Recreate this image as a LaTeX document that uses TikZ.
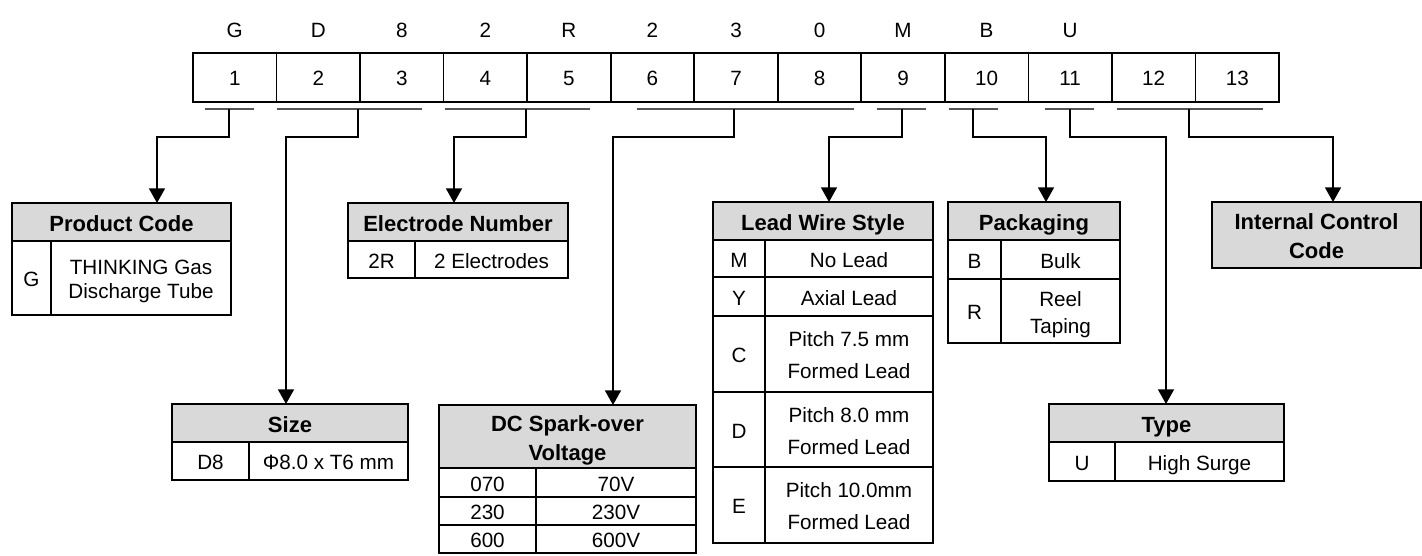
\documentclass[tikz,border=0pt]{standalone}
\usepackage{fontspec}
\setmainfont{Liberation Sans}
\usetikzlibrary{arrows.meta}
\definecolor{hdrgray}{RGB}{217,217,217}
\definecolor{brkgray}{RGB}{85,85,85}
\newcommand\mkcell[7][cellbox]{\node[#1, minimum width={(#5-#3)*0.75pt}, minimum height={(#6-#4)*0.75pt}] (#2) at (#3,#4) {#7};}
\begin{document}
\begin{tikzpicture}[x=0.75pt,y=-0.75pt,
  every node/.style={font=\fontsize{15.5}{18}\selectfont},
  cellbox/.style={draw=black, line width=1.3pt, inner sep=0pt, outer sep=0pt, anchor=north west, align=center, text height=13.2pt, text depth=0pt},
  headbox/.style={cellbox, fill=hdrgray, font=\fontsize{16.5}{21.5}\selectfont\bfseries, text height=13.8pt},
  headtwo/.style={headbox, text height=35.3pt},
  pctwo/.style={cellbox, text height=31.2pt},
  twoline/.style={cellbox, font=\fontsize{15.5}{24}\selectfont, text height=37.2pt},
  pkline/.style={cellbox, font=\fontsize{15.5}{20}\selectfont, text height=33.2pt},
  topcell/.style={draw=black, line width=1.3pt, inner sep=0pt, outer sep=0pt, minimum width=62.65pt, minimum height=36.75pt, text height=12.6pt, text depth=0pt},
  letter/.style={inner sep=0pt},
  brk/.style={draw=brkgray, line width=1.1pt},
  conn/.style={draw=black, line width=1.3pt, -{Triangle[width=12pt,length=11pt]}}
]
\useasboundingbox (0,0) rectangle (1422,556);

% top code row
\foreach \i/\t in {1/G,2/D,3/8,4/2,5/R,6/2,7/3,8/0,9/M,10/B,11/U}{
  \node[letter] (l\i) at ({193+(\i-0.5)*83.54},30) {\t};
}
\foreach \i in {1,...,13}{
  \node[topcell] (c\i) at ({193+(\i-0.5)*83.54},77.5) {\i};
}

% brackets
\coordinate (lvl) at (0,137);
\draw[brk] (205,109) -- (254,109);   \coordinate (b1) at (229,109);
\draw[brk] (277,109) -- (422,109);   \coordinate (b2) at (358,109);
\draw[brk] (445,109) -- (590,109);   \coordinate (b3) at (526,109);
\draw[brk] (637,109) -- (854,109);   \coordinate (b4) at (734,109);
\draw[brk] (877,109) -- (926,109);   \coordinate (b5) at (902,109);
\draw[brk] (949,109) -- (998,109);   \coordinate (b6) at (973,109);
\draw[brk] (1045,109) -- (1094,109); \coordinate (b7) at (1070,109);
\draw[brk] (1117,109) -- (1263,109); \coordinate (b8) at (1189,109);

% Product Code
\mkcell[headbox]{pch}{12}{203}{231}{241}{Product Code}
\mkcell{pc1}{12}{241}{51}{315}{G}
\mkcell[pctwo]{pc2}{51}{241}{231}{315}{THINKING Gas\\Discharge Tube}

% Electrode Number
\mkcell[headbox]{elh}{348}{203}{568}{241}{Electrode Number}
\mkcell{el1}{348}{241}{415}{278}{2R}
\mkcell{el2}{415}{241}{568}{278}{2 Electrodes}

% Size
\mkcell[headbox]{szh}{172}{404}{408}{442}{Size}
\mkcell{sz1}{172}{442}{249}{480}{D8}
\mkcell{sz2}{249}{442}{408}{480}{Φ8.0 x T6 mm}

% DC Spark-over Voltage
\mkcell[headtwo]{dch}{439}{405}{696}{468}{DC Spark-over\\Voltage}
\mkcell{dc1a}{439}{468}{536}{497}{070}
\mkcell{dc1b}{536}{468}{696}{497}{70V}
\mkcell{dc2a}{439}{497}{536}{525}{230}
\mkcell{dc2b}{536}{497}{696}{525}{230V}
\mkcell{dc3a}{439}{525}{536}{553}{600}
\mkcell{dc3b}{536}{525}{696}{553}{600V}

% Lead Wire Style
\mkcell[headbox]{lwh}{713}{202}{933}{240}{Lead Wire Style}
\mkcell{lw1a}{713}{240}{765}{277}{M}
\mkcell{lw1b}{765}{240}{933}{277}{No Lead}
\mkcell{lw2a}{713}{277}{765}{316}{Y}
\mkcell{lw2b}{765}{277}{933}{316}{Axial Lead}
\mkcell{lw3a}{713}{316}{765}{392}{C}
\mkcell[twoline]{lw3b}{765}{316}{933}{392}{Pitch 7.5 mm\\Formed Lead}
\mkcell{lw4a}{713}{392}{765}{467}{D}
\mkcell[twoline]{lw4b}{765}{392}{933}{467}{Pitch 8.0 mm\\Formed Lead}
\mkcell{lw5a}{713}{467}{765}{543}{E}
\mkcell[twoline]{lw5b}{765}{467}{933}{543}{Pitch 10.0mm\\Formed Lead}

% Packaging
\mkcell[headbox]{pkh}{948}{202}{1120}{240}{Packaging}
\mkcell{pk1a}{948}{240}{1001}{279}{B}
\mkcell{pk1b}{1001}{240}{1120}{279}{Bulk}
\mkcell{pk2a}{948}{279}{1001}{343}{R}
\mkcell[pkline]{pk2b}{1001}{279}{1120}{343}{Reel\\Taping}

% Internal Control Code
\mkcell[headtwo]{icc}{1212}{202}{1421}{268}{Internal Control\\Code}

% Type
\mkcell[headbox]{tyh}{1049}{404}{1284}{442}{Type}
\mkcell{ty1}{1049}{442}{1115}{481}{U}
\mkcell{ty2}{1115}{442}{1284}{481}{High Surge}

% connectors
\draw[conn] (b1) -- (b1 |- lvl) -| (pch.north -| 157,0);
\draw[conn] (b2) -- (b2 |- lvl) -| (szh.north -| 286,0);
\draw[conn] (b3) -- (b3 |- lvl) -| (elh.north -| 454,0);
\draw[conn] (b4) -- (b4 |- lvl) -| (dch.north -| 613,0);
\draw[conn] (b5) -- (b5 |- lvl) -| (lwh.north -| 829,0);
\draw[conn] (b6) -- (b6 |- lvl) -| (pkh.north -| 1046,0);
\draw[conn] (b7) -- (b7 |- lvl) -| (tyh.north -| 1166,0);
\draw[conn] (b8) -- (b8 |- lvl) -| (icc.north -| 1333,0);
\end{tikzpicture}
\end{document}
